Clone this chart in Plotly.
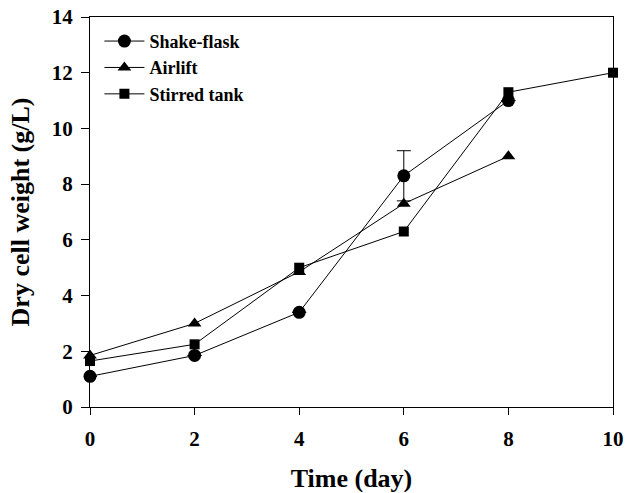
import plotly.graph_objects as go

days_shake = [0, 2, 4, 6, 8]
shake_flask = [1.1, 1.85, 3.4, 8.3, 11.0]
shake_err = [0, 0, 0, 0.9, 0]

days_air = [0, 2, 4, 6, 8]
airlift = [1.85, 3.0, 4.85, 7.3, 9.0]

days_stir = [0, 2, 4, 6, 8, 10]
stirred_tank = [1.65, 2.25, 5.0, 6.3, 11.3, 12.0]

x_ticks = [0, 2, 4, 6, 8, 10]
y_ticks = [0, 2, 4, 6, 8, 10, 12, 14]

font_family = "Liberation Serif"

fig = go.Figure()
fig.add_trace(go.Scatter(
    x=days_shake, y=shake_flask, name="Shake-flask", mode="lines+markers",
    line=dict(color="black", width=1),
    marker=dict(symbol="circle", size=13, color="black"),
    error_y=dict(type="data", array=shake_err, visible=True, color="black", thickness=1, width=7),
))
fig.add_trace(go.Scatter(
    x=days_air, y=airlift, name="Airlift", mode="lines+markers",
    line=dict(color="black", width=1),
    marker=dict(symbol="triangle-up", size=12, color="black"),
))
fig.add_trace(go.Scatter(
    x=days_stir, y=stirred_tank, name="Stirred tank", mode="lines+markers",
    line=dict(color="black", width=1),
    marker=dict(symbol="square", size=10, color="black"),
))

bold = dict(family=font_family, weight="bold", color="black")

fig.update_layout(
    width=626, height=493,
    margin=dict(l=90, r=13, t=17, b=86),
    paper_bgcolor="white", plot_bgcolor="white",
    font=dict(family=font_family, color="black", size=16),
    showlegend=True,
    legend=dict(x=0.018, y=0.985, xanchor="left", yanchor="top",
                bgcolor="rgba(0,0,0,0)", font=dict(size=18, **bold),
                itemwidth=40, tracegroupgap=0),
    xaxis=dict(
        range=[0, 10], tickvals=x_ticks, ticks="outside", ticklen=7,
        tickcolor="black", showline=True, linecolor="black", linewidth=1,
        mirror=True, showgrid=False, zeroline=False, automargin=False,
        tickfont=dict(size=21, **bold), ticklabelstandoff=6,
        title=dict(text="Time (day)", font=dict(size=26, **bold), standoff=22),
    ),
    yaxis=dict(
        range=[0, 14], tickvals=y_ticks, ticks="outside", ticklen=8,
        tickcolor="black", showline=True, linecolor="black", linewidth=1,
        mirror=True, showgrid=False, zeroline=False, automargin=False,
        tickfont=dict(size=21, **bold), ticklabelstandoff=4,
        title=dict(text="Dry cell weight (g/L)", font=dict(size=26, **bold), standoff=14),
    ),
)
for tr in fig.data:
    tr.cliponaxis = False

fig.write_html("out.html", post_script="document.body.style.margin='0';",
               config={"displayModeBar": False})
